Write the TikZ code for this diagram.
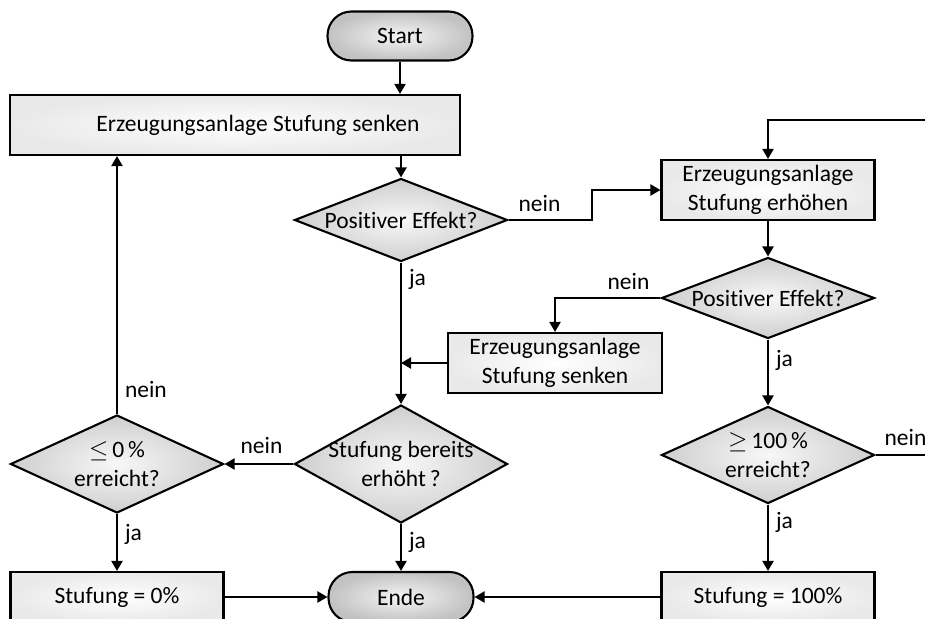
\documentclass[tikz,border=0pt]{standalone}
\usepackage{fontspec}
\setmainfont{Carlito}[Ligatures={NoCommon}]
\usetikzlibrary{arrows.meta,shapes.geometric}

\begin{document}
\begin{tikzpicture}[x=1pt,y=-1pt,
  txt/.style={font=\fontsize{23.5}{29}\selectfont},
  every node/.style={txt},
  outline/.style={draw=black, line width=2.1pt},
  flow/.style={line width=2.1pt, -{Triangle[length=10pt,width=11pt]}},
  term/.style={outline, rectangle, rounded corners=24pt, inner sep=0pt,
    minimum width=145pt, minimum height=49pt,
    shade, inner color=gray!8, outer color=gray!48},
  proc/.style={outline, rectangle, inner sep=0pt, align=center,
    minimum width=213pt, minimum height=60pt,
    shade, inner color=white, outer color=gray!17},
  dec/.style={outline, diamond, inner sep=0pt, minimum width=213pt,
    shade, inner color=gray!6, outer color=gray!38},
  tag/.style={inner sep=0pt},
]
\useasboundingbox (0,0) rectangle (925,618);
\clip (0,0) rectangle (925,618);

% terminals and process boxes
\node[term] (start) at (400,36) {Start};
\node[proc, minimum width=450pt] (b1) at (235,125)
  {\hspace*{46pt}Erzeugungsanlage Stufung senken};
\node[proc] (b2) at (768,190) {Erzeugungsanlage\\Stufung erhöhen};
\node[proc, minimum width=214pt] (b3) at (555,363) {Erzeugungsanlage\\Stufung senken};
\node[proc, minimum height=50pt] (b4) at (117,597) {Stufung = 0\%};
\node[proc, minimum height=50pt] (b5) at (768,597) {Stufung = 100\%};
\node[term, minimum height=50pt] (ende) at (401,597) {Ende};

% decisions
\node[dec, minimum height=83pt,
  label={[txt]center:Positiver Effekt?}] (d1) at (401,220) {};
\node[dec, minimum height=81pt,
  label={[txt]center:Positiver Effekt?}] (d2) at (768,298) {};
\node[dec, minimum height=118pt,
  label={[txt,align=center]center:Stufung bereits\\erhöht\,?}] (d3) at (401,464) {};
\node[dec, minimum height=98pt,
  label={[txt,align=center]center:$\leq$\,0\,\%\\erreicht?}] (d4) at (117,464) {};
\node[dec, minimum height=97pt,
  label={[txt,align=center]center:$\geq$\,100\,\%\\erreicht?}] (d5) at (768,455) {};

% connectors
\draw[flow] (start) -- (b1.north -| start);
\draw[flow] (b1.south -| d1) -- (d1.north);
\draw[flow] (d1.east)
  -- node[tag, pos=0, anchor=south west, xshift=9pt, yshift=7pt] {nein} ++(83,0)
  |- (b2.west);
\draw[flow] (b2) -- (d2.north);
\draw[flow] (d2.west) -| (b3.north)
  node[tag, pos=0, anchor=south east, xshift=-10pt, yshift=7pt] {nein};
\draw[flow] (b3.west) -- (b3.west -| d1.south);
\draw[flow] (d1.south) -- (d3.north)
  node[tag, pos=0, anchor=north west, xshift=7pt, yshift=-6pt] {ja};
\draw[flow] (d2.south) -- (d5.north)
  node[tag, pos=0, anchor=north west, xshift=7pt, yshift=-10pt] {ja};
\draw[flow] (d3.west) -- (d4.east)
  node[tag, pos=0, anchor=south east, xshift=-10pt, yshift=9pt] {nein};
\draw[flow] (d4.north) -- (d4.north |- b1.south)
  node[tag, pos=0, anchor=south west, xshift=7pt, yshift=15pt] {nein};
\draw[flow] (d4.south) -- (b4.north)
  node[tag, pos=0, anchor=north west, xshift=7pt, yshift=-9pt] {ja};
\draw[flow] (d3.south) -- (ende.north)
  node[tag, pos=0, anchor=north west, xshift=7pt, yshift=-7pt] {ja};
\draw[flow] (d5.south) -- (b5.north)
  node[tag, pos=0, anchor=north west, xshift=7pt, yshift=-7pt] {ja};
\draw[flow] (b4.east) -- (ende.west);
\draw[flow] (b5.west) -- (ende.east);
\draw[flow] (d5.east)
  -- node[tag, pos=0, anchor=south west, xshift=8pt, yshift=8pt] {nein} ++(70,0)
  -- ++(0,-335) -| (b2.north);
\end{tikzpicture}
\end{document}
